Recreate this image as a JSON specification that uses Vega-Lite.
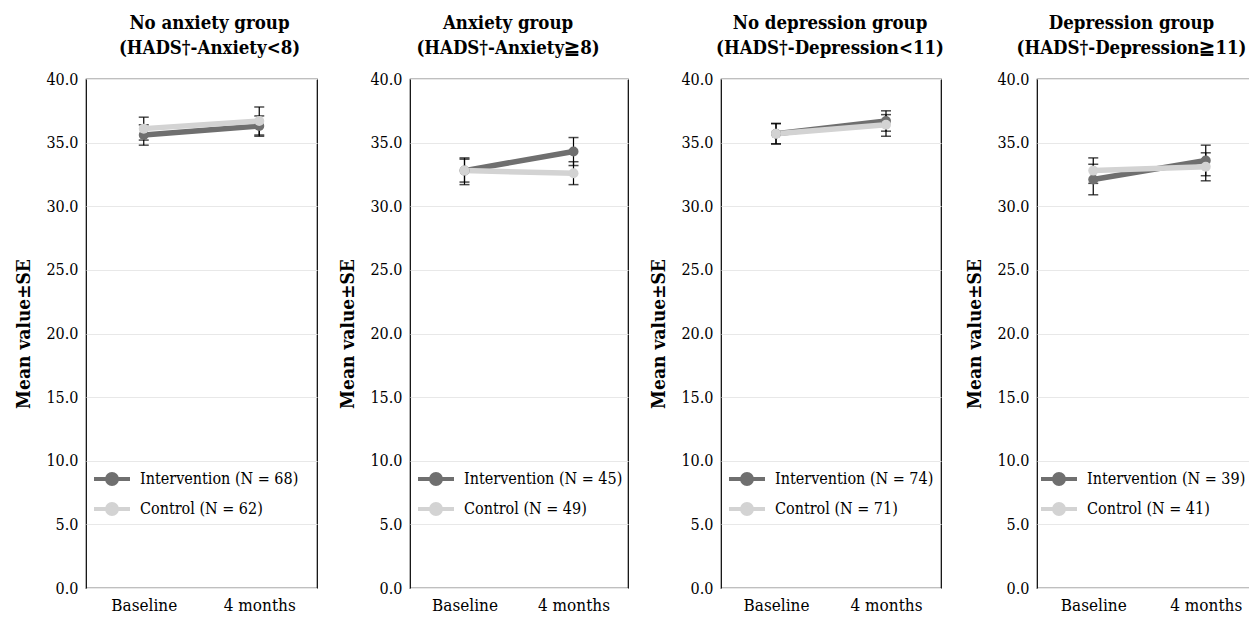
{
  "$schema": "https://vega.github.io/schema/vega-lite/v6.json",
  "background": "white",
  "padding": {"left": 14, "top": 12, "right": 0, "bottom": 0},
  "spacing": 20,
  "data": {"values": [
    {"panel": 1, "time": "Baseline", "label": "Intervention (N = 68)", "mean": 35.6, "lo": 34.8, "hi": 36.4},
    {"panel": 1, "time": "4 months", "label": "Intervention (N = 68)", "mean": 36.3, "lo": 35.5, "hi": 37.1},
    {"panel": 1, "time": "Baseline", "label": "Control (N = 62)", "mean": 36.1, "lo": 35.2, "hi": 37.0},
    {"panel": 1, "time": "4 months", "label": "Control (N = 62)", "mean": 36.7, "lo": 35.6, "hi": 37.8},
    {"panel": 2, "time": "Baseline", "label": "Intervention (N = 45)", "mean": 32.8, "lo": 31.9, "hi": 33.7},
    {"panel": 2, "time": "4 months", "label": "Intervention (N = 45)", "mean": 34.3, "lo": 33.2, "hi": 35.4},
    {"panel": 2, "time": "Baseline", "label": "Control (N = 49)", "mean": 32.8, "lo": 31.7, "hi": 33.8},
    {"panel": 2, "time": "4 months", "label": "Control (N = 49)", "mean": 32.6, "lo": 31.7, "hi": 33.5},
    {"panel": 3, "time": "Baseline", "label": "Intervention (N = 74)", "mean": 35.7, "lo": 34.9, "hi": 36.5},
    {"panel": 3, "time": "4 months", "label": "Intervention (N = 74)", "mean": 36.7, "lo": 35.9, "hi": 37.5},
    {"panel": 3, "time": "Baseline", "label": "Control (N = 71)", "mean": 35.7, "lo": 34.9, "hi": 36.5},
    {"panel": 3, "time": "4 months", "label": "Control (N = 71)", "mean": 36.4, "lo": 35.5, "hi": 37.2},
    {"panel": 4, "time": "Baseline", "label": "Intervention (N = 39)", "mean": 32.1, "lo": 30.9, "hi": 33.3},
    {"panel": 4, "time": "4 months", "label": "Intervention (N = 39)", "mean": 33.6, "lo": 32.4, "hi": 34.8},
    {"panel": 4, "time": "Baseline", "label": "Control (N = 41)", "mean": 32.8, "lo": 31.8, "hi": 33.8},
    {"panel": 4, "time": "4 months", "label": "Control (N = 41)", "mean": 33.1, "lo": 32.0, "hi": 34.2}
  ]},
  "config": {
    "font": "DejaVu Serif Condensed, DejaVu Serif, serif",
    "view": {"stroke": "black", "strokeWidth": 1.2},
    "axis": {"labelFont": "DejaVu Serif Condensed, DejaVu Serif, serif", "labelColor": "black", "titleFont": "DejaVu Serif Condensed, DejaVu Serif, serif", "titleColor": "black"},
    "axisX": {"labelAngle": 0, "labelFontSize": 17, "ticks": false, "domain": false, "grid": false, "labelPadding": 9, "title": null},
    "axisY": {"labelFontSize": 16, "ticks": false, "domain": false, "grid": true, "gridColor": "#e8e8e8", "gridWidth": 1, "labelPadding": 8, "titleFontSize": 19, "titleFontWeight": "bold", "titlePadding": 12, "format": ".1f"},
    "title": {"font": "DejaVu Serif Condensed, DejaVu Serif, serif", "fontSize": 18.5, "fontWeight": "bold", "color": "black", "lineHeight": 25, "offset": 14, "anchor": "middle"},
    "legend": {"title": null, "orient": "none", "legendX": 9, "legendY": 383, "labelFont": "DejaVu Serif Condensed, DejaVu Serif, serif", "labelFontSize": 16, "labelColor": "black", "symbolType": "M-1.2,0H1.2M-0.33,0A0.33,0.33,0,1,0,0.33,0A0.33,0.33,0,1,0,-0.33,0Z", "symbolSize": 900, "symbolStrokeWidth": 4, "labelOffset": 11, "rowPadding": 0, "padding": 0}
  },
  "resolve": {"scale": {"color": "independent"}, "legend": {"color": "independent"}},
  "hconcat": [
    {
      "title": {"text": ["No anxiety group", "(HADS†-Anxiety<8)"], "dx": 8},
      "width": 231, "height": 509,
      "transform": [{"filter": "datum.panel == 1"}],
      "encoding": {
        "x": {"field": "time", "type": "nominal", "sort": ["Baseline", "4 months"], "scale": {"type": "point", "padding": 0.5}},
        "color": {"field": "label", "type": "nominal", "sort": "descending", "scale": {"range": ["#6f6f6f", "#d3d3d3"]}}
      },
      "layer": [
        {"mark": {"type": "errorbar", "color": "black", "ticks": {"size": 10, "thickness": 1.5, "color": "black"}, "rule": {"strokeWidth": 1.2, "color": "black"}}, "encoding": {"y": {"field": "lo", "type": "quantitative", "scale": {"domain": [0, 40]}, "title": "Mean value±SE", "axis": {"values": [0, 5, 10, 15, 20, 25, 30, 35, 40]}}, "y2": {"field": "hi"}, "color": {"value": "black"}}},
        {"mark": {"type": "line", "strokeWidth": 5.5}, "encoding": {"y": {"field": "mean", "type": "quantitative", "scale": {"domain": [0, 40]}, "title": "Mean value±SE", "axis": {"values": [0, 5, 10, 15, 20, 25, 30, 35, 40]}}}},
        {"mark": {"type": "point", "filled": true, "opacity": 1, "size": 100}, "encoding": {"y": {"field": "mean", "type": "quantitative", "scale": {"domain": [0, 40]}, "title": "Mean value±SE", "axis": {"values": [0, 5, 10, 15, 20, 25, 30, 35, 40]}}}}
      ]
    },
    {
      "title": {"text": ["Anxiety group", "(HADS†-Anxiety≧8)"], "dx": -11},
      "width": 218, "height": 509,
      "transform": [{"filter": "datum.panel == 2"}],
      "encoding": {
        "x": {"field": "time", "type": "nominal", "sort": ["Baseline", "4 months"], "scale": {"type": "point", "padding": 0.5}},
        "color": {"field": "label", "type": "nominal", "sort": "descending", "scale": {"range": ["#6f6f6f", "#d3d3d3"]}}
      },
      "layer": [
        {"mark": {"type": "errorbar", "color": "black", "ticks": {"size": 10, "thickness": 1.5, "color": "black"}, "rule": {"strokeWidth": 1.2, "color": "black"}}, "encoding": {"y": {"field": "lo", "type": "quantitative", "scale": {"domain": [0, 40]}, "title": "Mean value±SE", "axis": {"values": [0, 5, 10, 15, 20, 25, 30, 35, 40]}}, "y2": {"field": "hi"}, "color": {"value": "black"}}},
        {"mark": {"type": "line", "strokeWidth": 5.5}, "encoding": {"y": {"field": "mean", "type": "quantitative", "scale": {"domain": [0, 40]}, "title": "Mean value±SE", "axis": {"values": [0, 5, 10, 15, 20, 25, 30, 35, 40]}}}},
        {"mark": {"type": "point", "filled": true, "opacity": 1, "size": 100}, "encoding": {"y": {"field": "mean", "type": "quantitative", "scale": {"domain": [0, 40]}, "title": "Mean value±SE", "axis": {"values": [0, 5, 10, 15, 20, 25, 30, 35, 40]}}}}
      ]
    },
    {
      "title": {"text": ["No depression group", "(HADS†-Depression<11)"], "dx": -1},
      "width": 220, "height": 509,
      "transform": [{"filter": "datum.panel == 3"}],
      "encoding": {
        "x": {"field": "time", "type": "nominal", "sort": ["Baseline", "4 months"], "scale": {"type": "point", "padding": 0.5}},
        "color": {"field": "label", "type": "nominal", "sort": "descending", "scale": {"range": ["#6f6f6f", "#d3d3d3"]}}
      },
      "layer": [
        {"mark": {"type": "errorbar", "color": "black", "ticks": {"size": 10, "thickness": 1.5, "color": "black"}, "rule": {"strokeWidth": 1.2, "color": "black"}}, "encoding": {"y": {"field": "lo", "type": "quantitative", "scale": {"domain": [0, 40]}, "title": "Mean value±SE", "axis": {"values": [0, 5, 10, 15, 20, 25, 30, 35, 40]}}, "y2": {"field": "hi"}, "color": {"value": "black"}}},
        {"mark": {"type": "line", "strokeWidth": 5.5}, "encoding": {"y": {"field": "mean", "type": "quantitative", "scale": {"domain": [0, 40]}, "title": "Mean value±SE", "axis": {"values": [0, 5, 10, 15, 20, 25, 30, 35, 40]}}}},
        {"mark": {"type": "point", "filled": true, "opacity": 1, "size": 100}, "encoding": {"y": {"field": "mean", "type": "quantitative", "scale": {"domain": [0, 40]}, "title": "Mean value±SE", "axis": {"values": [0, 5, 10, 15, 20, 25, 30, 35, 40]}}}}
      ]
    },
    {
      "title": {"text": ["Depression group", "(HADS†-Depression≧11)"], "dx": -18},
      "width": 225, "height": 509,
      "transform": [{"filter": "datum.panel == 4"}],
      "encoding": {
        "x": {"field": "time", "type": "nominal", "sort": ["Baseline", "4 months"], "scale": {"type": "point", "padding": 0.5}},
        "color": {"field": "label", "type": "nominal", "sort": "descending", "scale": {"range": ["#6f6f6f", "#d3d3d3"]}, "legend": {"legendX": 5}}
      },
      "layer": [
        {"mark": {"type": "errorbar", "color": "black", "ticks": {"size": 10, "thickness": 1.5, "color": "black"}, "rule": {"strokeWidth": 1.2, "color": "black"}}, "encoding": {"y": {"field": "lo", "type": "quantitative", "scale": {"domain": [0, 40]}, "title": "Mean value±SE", "axis": {"values": [0, 5, 10, 15, 20, 25, 30, 35, 40]}}, "y2": {"field": "hi"}, "color": {"value": "black"}}},
        {"mark": {"type": "line", "strokeWidth": 5.5}, "encoding": {"y": {"field": "mean", "type": "quantitative", "scale": {"domain": [0, 40]}, "title": "Mean value±SE", "axis": {"values": [0, 5, 10, 15, 20, 25, 30, 35, 40]}}}},
        {"mark": {"type": "point", "filled": true, "opacity": 1, "size": 100}, "encoding": {"y": {"field": "mean", "type": "quantitative", "scale": {"domain": [0, 40]}, "title": "Mean value±SE", "axis": {"values": [0, 5, 10, 15, 20, 25, 30, 35, 40]}}}}
      ]
    }
  ]
}
